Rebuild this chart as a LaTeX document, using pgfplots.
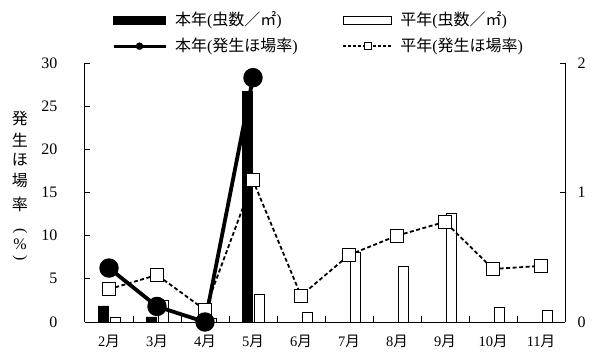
\documentclass[border=0pt]{standalone}
\usepackage{fontspec}
\setmainfont{Liberation Serif}
\newfontfamily\cjk{Noto Sans CJK JP}
\usepackage{graphicx}
\usepackage{pgfplots}
\pgfplotsset{compat=1.18}
\newcommand{\J}[1]{{\cjk #1}}

\begin{document}
\begin{tikzpicture}
\fontsize{16bp}{19bp}\selectfont
\useasboundingbox (-85bp,-37bp) rectangle (510bp,322bp);
% ---- bars: right axis (insects per m2)
\begin{axis}[
  at={(0,0)}, anchor=south west,
  scale only axis, width=480bp, height=259bp,
  xmin=-0.5, xmax=9.5, ymin=0, ymax=2,
  axis x line=none, axis y line*=right,
  ytick={0,1,2}, tick align=inside, major tick length=5bp,
  tick style={black, line width=0.8bp},
  axis line style={black, line width=1bp},
  /pgf/number format/assume math mode=true,
  yticklabel style={font=\fontsize{16bp}{19bp}\selectfont, xshift=7bp},
]
\addplot[ybar, bar width=10bp, bar shift=-6bp, fill=black, draw=black]
  coordinates {(0,0.125) (1,0.04) (2,0) (3,1.78)};
\addplot[ybar, bar width=10bp, bar shift=6bp, fill=white, draw=black, line width=0.8bp]
  coordinates {(0,0.036) (1,0.17) (2,0.025) (3,0.21) (4,0.075) (5,0.54) (6,0.43) (7,0.84) (8,0.11) (9,0.087)};
\end{axis}
% ---- lines: left axis (%)
\begin{axis}[
  at={(0,0)}, anchor=south west,
  scale only axis, width=480bp, height=259bp,
  xmin=-0.5, xmax=9.5, ymin=0, ymax=30,
  axis x line*=bottom, axis y line*=left,
  axis line style={black, line width=1bp},
  tick style={black, line width=0.8bp},
  tick align=inside,
  xtick={0,...,9},
  xticklabels={2\J{月},3\J{月},4\J{月},5\J{月},6\J{月},7\J{月},8\J{月},9\J{月},10\J{月},11\J{月}},
  major x tick style={draw=none},
  minor xtick={0.5,1.5,...,8.5},
  minor tick length=6bp,
  major tick length=5bp,
  ytick={0,5,...,30},
  clip=false,
  /pgf/number format/assume math mode=true,
  yticklabel style={font=\fontsize{16bp}{19bp}\selectfont, xshift=-22bp},
  xticklabel style={font=\fontsize{14.5bp}{17bp}\selectfont, yshift=-8bp},
  legend columns=2,
  legend cell align=left,
  legend style={draw=none, fill=none, inner sep=0pt, outer sep=0pt,
    font=\fontsize{16bp}{19bp}\selectfont,
    at={(rel axis cs:0.0563,1.205)}, anchor=north west,
    row sep=6bp,
    /tikz/every odd column/.append style={column sep=6bp},
    /tikz/every even column/.append style={column sep=43bp}},
]
\addlegendimage{legend image code/.code={\fill[black] (0bp,-4bp) rectangle (52bp,4bp);}}
\addlegendentry{\J{本年}(\J{虫数／㎡})}
\addlegendimage{legend image code/.code={\draw[black, fill=white, line width=0.8bp] (0bp,-4bp) rectangle (48bp,4bp);}}
\addlegendentry{\J{平年}(\J{虫数／㎡})}
\addlegendimage{legend image code/.code={\draw[black, line width=3bp] (0bp,0bp) -- (52bp,0bp); \fill[black] (26bp,0bp) circle (3.5bp);}}
\addlegendentry{\J{本年}(\J{発生ほ場率})}
\addlegendimage{legend image code/.code={\draw[black, line width=1.6bp, dash pattern=on 3bp off 2bp] (0bp,0bp) -- (48bp,0bp); \draw[black, fill=white, line width=0.9bp] (21bp,-3.5bp) rectangle (28bp,3.5bp);}}
\addlegendentry{\J{平年}(\J{発生ほ場率})}

\addplot[black, line width=1.8bp, dash pattern=on 4bp off 2.5bp,
  mark=square*, mark size=6.5bp, mark options={solid, fill=white, draw=black, line width=1bp}]
  coordinates {(0,3.8) (1,5.45) (2,1.4) (3,16.4) (4,3.05) (5,7.76) (6,10.0) (7,11.6) (8,6.14) (9,6.5)};
\addplot[black, line width=3.8bp, mark=*, mark size=7.8bp, mark options={fill=black}]
  coordinates {(0,6.25) (1,1.8) (2,0) (3,28.3)};

\begin{scope}[every node/.style={font=\fontsize{16bp}{19bp}\selectfont, inner sep=0pt, xshift=-65bp}]
\node at (rel axis cs:0,0.7876) {\J{発}};
\node at (rel axis cs:0,0.7027) {\J{生}};
\node at (rel axis cs:0,0.6255) {\J{ほ}};
\node at (rel axis cs:0,0.5444) {\J{場}};
\node at (rel axis cs:0,0.4556) {\J{率}};
\node[rotate=-90] at (rel axis cs:0,0.3514) {(};
\node at (rel axis cs:0,0.3012) {\%};
\node[rotate=-90] at (rel axis cs:0,0.2471) {)};
\end{scope}
\end{axis}
\end{tikzpicture}
\end{document}
